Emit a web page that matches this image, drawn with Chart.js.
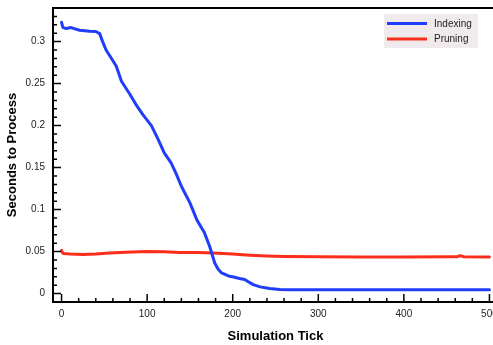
<!DOCTYPE html>
<html>
<head>
<meta charset="utf-8">
<script src="https://cdn.jsdelivr.net/npm/chart.js@4/dist/chart.umd.min.js"></script>
<style>
    html, body { margin: 0; padding: 0; background: #fff; overflow: hidden; }
    #wrap { width: 510px; height: 345px; }
</style>
</head>
<body>
<div id="wrap"><canvas id="timingChart" width="510" height="345"></canvas></div>
<script>
// series
var seriesNames = ['Indexing', 'Pruning'];
var seriesColors = ['#1f3dfb', '#fb2e1c'];

var indexingTicks = [0, 1.5, 5.5, 11, 21, 33, 40, 44.5, 48, 52, 58, 64, 70, 80, 87, 95, 105, 113, 120, 128, 134,
    140, 150, 158, 167, 173, 179, 183, 187, 195, 201, 208, 214, 220, 224, 232, 243, 255, 266, 300, 400, 500];
var indexingSecs = [0.323, 0.317, 0.3155, 0.3167, 0.3135, 0.3123, 0.312, 0.3095, 0.30, 0.290, 0.2805, 0.2706,
    0.2528, 0.237, 0.225, 0.213, 0.200, 0.1833, 0.1675, 0.1556, 0.1425, 0.1278, 0.108, 0.088, 0.0723, 0.0563,
    0.0365, 0.029, 0.0246, 0.021, 0.0198, 0.018, 0.0167, 0.013, 0.0107, 0.008, 0.006, 0.005, 0.0046, 0.0045,
    0.0045, 0.0045];

var pruningTicks = [0, 1, 2, 10, 25, 40, 56, 75, 99, 120, 138, 160, 177, 200, 220, 240, 260, 300, 350, 400, 450,
    462, 466, 470, 500];
var pruningSecs = [0.0515, 0.049, 0.0478, 0.0472, 0.0466, 0.047, 0.0482, 0.0492, 0.0502, 0.0498, 0.049, 0.0488,
    0.0484, 0.047, 0.0458, 0.0448, 0.0442, 0.0438, 0.0437, 0.0437, 0.0438, 0.0439, 0.0452, 0.0439, 0.0437];

// axis ticks (major ones get a label)
var xTickValues = [0, 20, 40, 60, 80, 100, 120, 140, 160, 180, 200, 220, 240, 260, 280, 300, 320, 340, 360, 380,
    400, 420, 440, 460, 480, 500];
var xTickLabels = ['0', '100', '200', '300', '400', '500'];
var yTickValues = [0, 0.01, 0.02, 0.03, 0.04, 0.05, 0.06, 0.07, 0.08, 0.09, 0.1, 0.11, 0.12, 0.13, 0.14, 0.15,
    0.16, 0.17, 0.18, 0.19, 0.2, 0.21, 0.22, 0.23, 0.24, 0.25, 0.26, 0.27, 0.28, 0.29, 0.3, 0.31, 0.32, 0.33];
var yTickLabels = ['0', '0.05', '0.1', '0.15', '0.2', '0.25', '0.3'];

function toPoints(xs, ys) {
    var pts = [];
    for (var i = 0; i < xs.length; i++) {
        pts.push({x: xs[i], y: ys[i]});
    }
    return pts;
}

function fmt(v) {
    return String(+v.toFixed(2));
}

// frame + inward tick marks
var frameTicks = {
    id: 'frameTicks',
    afterDatasetsDraw(chart) {
        var ctx = chart.ctx, area = chart.chartArea;
        var xs = chart.scales.x, ys = chart.scales.y;
        ctx.save();
        ctx.strokeStyle = '#000';
        ctx.lineWidth = 1.5;
        ctx.beginPath();
        xs.ticks.forEach(t => {
            var px = xs.getPixelForValue(t.value);
            var len = xTickLabels.indexOf(fmt(t.value)) != -1 ? 8 : 4;
            ctx.moveTo(px, area.bottom);
            ctx.lineTo(px, area.bottom - len);
        });
        ys.ticks.forEach(t => {
            var py = ys.getPixelForValue(t.value);
            var len = yTickLabels.indexOf(fmt(t.value)) != -1 ? 8 : 4;
            ctx.moveTo(area.left, py);
            ctx.lineTo(area.left + len, py);
        });
        ctx.stroke();
        ctx.lineWidth = 2;
        ctx.strokeRect(area.left, area.top, area.right - area.left, area.bottom - area.top);
        ctx.restore();
    }
};

// legend box in the upper right of the plot
var boxLegend = {
    id: 'boxLegend',
    afterDraw(chart) {
        var ctx = chart.ctx, area = chart.chartArea;
        var x = area.right - 114, y = area.top + 6;
        ctx.save();
        ctx.fillStyle = '#f0eaec';
        ctx.fillRect(x, y, 94, 34);
        ctx.font = '10px "Liberation Sans", Arial, sans-serif';
        ctx.textBaseline = 'middle';
        chart.data.datasets.forEach((ds, i) => {
            var ly = y + 9.5 + i * 15.5;
            ctx.strokeStyle = ds.borderColor;
            ctx.lineWidth = 3;
            ctx.beginPath();
            ctx.moveTo(x + 3, ly);
            ctx.lineTo(x + 43, ly);
            ctx.stroke();
            ctx.fillStyle = '#222';
            ctx.fillText(ds.label, x + 50, ly + 0.5);
        });
        ctx.restore();
    }
};

var ctx = document.getElementById('timingChart');
var chart = new Chart(ctx, {
    type: 'line',
    data: {
        datasets: [
            {label: seriesNames[0], data: toPoints(indexingTicks, indexingSecs), borderColor: seriesColors[0], borderWidth: 3},
            {label: seriesNames[1], data: toPoints(pruningTicks, pruningSecs), borderColor: seriesColors[1], borderWidth: 3},
        ]
    },
    options: {
        responsive: false,
        animation: false,
        devicePixelRatio: 1,
        layout: {padding: {top: 8, right: 12, left: 0, bottom: 0}},
        elements: {point: {radius: 0}, line: {tension: 0, borderCapStyle: 'round', borderJoinStyle: 'round'}},
        plugins: {legend: {display: false}, tooltip: {enabled: false}},
        scales: {
            x: {
                type: 'linear',
                min: -10,
                max: 510,
                grid: {display: false, drawTicks: false},
                border: {display: false},
                afterBuildTicks: scale => { scale.ticks = xTickValues.map(v => ({value: v})); },
                afterFit: scale => { scale.height = 43; scale.paddingLeft = 0; scale.paddingRight = 0; },
                ticks: {
                    autoSkip: false,
                    maxRotation: 0,
                    padding: 6,
                    color: '#222',
                    font: {family: '"Liberation Sans", Arial, sans-serif', size: 10},
                    callback: v => xTickLabels.indexOf(fmt(v)) != -1 ? fmt(v) : ''
                },
                title: {
                    display: true,
                    text: 'Simulation Tick',
                    color: '#000',
                    padding: {top: 0, bottom: 1},
                    font: {family: '"Liberation Sans", Arial, sans-serif', size: 13, weight: 'bold', lineHeight: 1.2}
                }
            },
            y: {
                type: 'linear',
                min: -0.01,
                max: 0.34,
                grid: {display: false, drawTicks: false},
                border: {display: false},
                afterBuildTicks: scale => { scale.ticks = yTickValues.map(v => ({value: v})); },
                afterFit: scale => { scale.width = 53; scale.paddingTop = 0; scale.paddingBottom = 0; },
                ticks: {
                    autoSkip: false,
                    padding: 8,
                    color: '#222',
                    font: {family: '"Liberation Sans", Arial, sans-serif', size: 10},
                    callback: v => yTickLabels.indexOf(fmt(v)) != -1 ? fmt(v) : ''
                },
                title: {
                    display: true,
                    text: 'Seconds to Process',
                    color: '#000',
                    padding: {top: 5, bottom: 0},
                    font: {family: '"Liberation Sans", Arial, sans-serif', size: 13, weight: 'bold', lineHeight: 1.2}
                }
            }
        }
    },
    plugins: [frameTicks, boxLegend]
});
</script>
</body>
</html>
